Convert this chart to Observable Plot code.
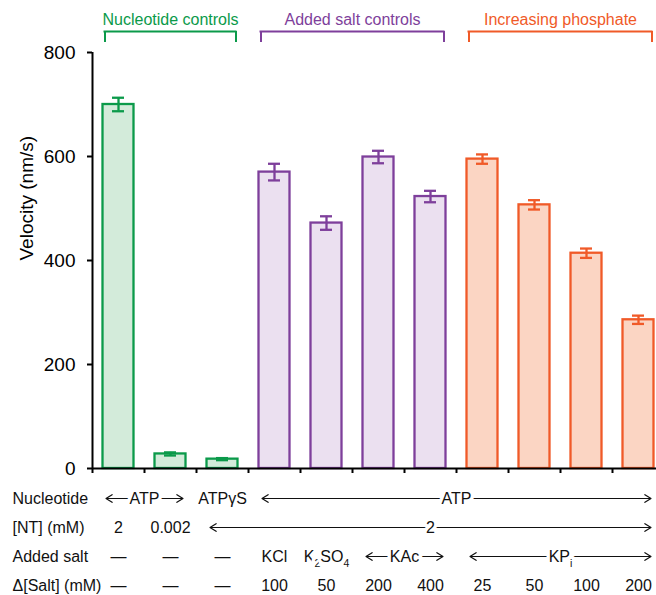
<!DOCTYPE html>
<html><head><meta charset="utf-8">
<script src="https://cdn.jsdelivr.net/npm/d3@7"></script>
<script src="https://cdn.jsdelivr.net/npm/@observablehq/plot@0.6"></script>
<style>
body{margin:0;background:#fff;}
#chart svg{display:block;overflow:visible;}
</style></head><body><div id="chart"></div>
<script>
// ---- data ----
const conditions = ["ATP 2 mM","ATP 0.002 mM","ATPγS 2 mM","KCl 100 mM","K2SO4 50 mM","KAc 200 mM","KAc 400 mM","KPi 25 mM","KPi 50 mM","KPi 100 mM","KPi 200 mM"];
const velocity = [700, 28, 18, 570, 472, 599, 523, 595, 507, 414, 286];
const velocityError = [13, 3, 2, 16, 13, 12, 11, 9, 9, 9, 8];
const barGroup = [0, 0, 0, 1, 1, 1, 1, 2, 2, 2, 2];
const groupNames = ["Nucleotide controls", "Added salt controls", "Increasing phosphate"];
const groupStart = [0, 3, 7];
const groupEnd = [3, 7, 11];
const groupStroke = ["#0b9a4a", "#7e3f9b", "#f05a28"];
const groupFill = ["#d3ebda", "#ebe0f0", "#fbd5c3"];
const yTicks = [0, 200, 400, 600, 800];
const yLabel = "Velocity (nm/s)";
const rowLabels = ["Nucleotide", "[NT] (mM)", "Added salt", "Δ[Salt] (mM)"];
// cells: [text, first bar, last bar (exclusive)]
const nucleotideCells = [["ATP",0,2],["ATPγS",2,3],["ATP",3,11]];
const ntCells = [["2",0,1],["0.002",1,2],["2",2,11]];
const saltCells = [["—",0,1],["—",1,2],["—",2,3],["KCl",3,4],["K_2SO_4",4,5],["KAc",5,7],["KP_i",7,11]];
const deltaSaltCells = [["—",0,1],["—",1,2],["—",2,3],["100",3,4],["50",4,5],["200",5,6],["400",6,7],["25",7,8],["50",8,9],["100",9,10],["200",10,11]];

// ---- build ----
const W = 656;
const nBars = conditions.length;
const xRange = [92, 664];
const font = "'Liberation Sans', Arial, Helvetica, sans-serif";

const bars = velocity.map((v, i) => ({
  i, name: conditions[i], v, e: velocityError[i],
  stroke: groupStroke[barGroup[i]], fill: groupFill[barGroup[i]]
}));
const groups = groupNames.map((name, g) => ({name, from: groupStart[g], to: groupEnd[g], color: groupStroke[g]}));
const cells = [];
[nucleotideCells, ntCells, saltCells, deltaSaltCells].forEach((row, r) =>
  row.forEach(([text, from, to]) => cells.push({row: rowLabels[r], text, from, to, span: to - from > 1})));
const spans = cells.filter(d => d.span);
const mid = d => (d.from + d.to) / 2;
const center = d => d.i + 0.5;

const header = Plot.plot({
  width: W, height: 45, marginTop: 0, marginBottom: 0, marginLeft: 92, marginRight: 0,
  x: {domain: [0, nBars], range: xRange, axis: null},
  y: {domain: [0, 1], range: [42, 31], axis: null},
  style: {fontFamily: font},
  marks: [
    Plot.ruleY(groups, {y: () => 1, x1: "from", x2: "to", insetLeft: 12.5, insetRight: 12.5, stroke: "color", strokeWidth: 2, strokeLinecap: "square"}),
    Plot.ruleX(groups, {x: "from", y1: () => 0, y2: () => 1, dx: 12.5, stroke: "color", strokeWidth: 2}),
    Plot.ruleX(groups, {x: "to", y1: () => 0, y2: () => 1, dx: -12.5, stroke: "color", strokeWidth: 2}),
    Plot.text(groups, {x: mid, y: () => 1, dy: -12, text: "name", fill: "color", fontSize: 16})
  ]
});

const chart = Plot.plot({
  width: W, height: 435, marginTop: 7, marginBottom: 12, marginLeft: 92, marginRight: 0,
  x: {domain: [0, nBars], range: xRange, axis: null},
  y: {domain: [0, 800], axis: null},
  style: {fontFamily: font, overflow: "visible"},
  marks: [
    Plot.rect(bars, {x1: "i", x2: d => d.i + 1, y1: () => 0, y2: "v", insetLeft: 10.5, insetRight: 10.5, fill: "fill", stroke: "stroke", strokeWidth: 2.3}),
    Plot.ruleX(bars, {x: center, y1: d => d.v - d.e, y2: d => d.v + d.e, stroke: "stroke", strokeWidth: 2.3}),
    Plot.ruleY(bars, {x1: center, x2: center, y: d => d.v + d.e, insetLeft: -6, insetRight: -6, stroke: "stroke", strokeWidth: 2.3}),
    Plot.ruleY(bars, {x1: center, x2: center, y: d => d.v - d.e, insetLeft: -6, insetRight: -6, stroke: "stroke", strokeWidth: 2.3}),
    Plot.ruleY([0], {stroke: "black", strokeWidth: 2}),
    Plot.ruleX([0], {stroke: "black", strokeWidth: 2}),
    Plot.axisY({ticks: yTicks, tickSize: 5, tickPadding: 12, fontSize: 19, strokeWidth: 2, label: null}),
    Plot.axisX({ticks: d3.range(nBars + 1), tickSize: 5, tickFormat: () => "", strokeWidth: 2, label: null}),
    Plot.text([yLabel], {text: d => d, frameAnchor: "left", rotate: -90, dx: -66, fontSize: 19, fill: "black"})
  ]
});

const table = Plot.plot({
  width: W, height: 115, marginTop: 17, marginBottom: 9, marginLeft: 92, marginRight: 0,
  x: {domain: [0, nBars], range: xRange, axis: null},
  y: {type: "point", domain: rowLabels, range: [17, 106], padding: 0, axis: null},
  style: {fontFamily: font},
  marks: [
    Plot.arrow(spans, {x1: mid, x2: "from", y1: "row", y2: "row", insetEnd: 13.5, headLength: 9, headAngle: 64, strokeWidth: 1.2, stroke: "#111"}),
    Plot.arrow(spans, {x1: mid, x2: "to", y1: "row", y2: "row", insetEnd: 13.5, headLength: 9, headAngle: 64, strokeWidth: 1.2, stroke: "#111"}),
    Plot.text(cells, {x: mid, y: "row", text: "text", fontSize: 16, fill: "#111", stroke: "white", strokeWidth: 7, strokeLinejoin: "round"}),
    Plot.text(rowLabels, {y: d => d, text: d => d, frameAnchor: "left", textAnchor: "start", dx: -80, fontSize: 16, fill: "#111"})
  ]
});

// subscripts: "_x" -> lowered small x
const NS = "http://www.w3.org/2000/svg";
table.querySelectorAll("text").forEach(t => {
  const s = t.textContent;
  if (!s.includes("_")) return;
  const parts = s.split(/_(\w)/);
  t.textContent = "";
  let prevSub = false;
  parts.forEach((p, k) => {
    if (!p) return;
    const ts = document.createElementNS(NS, "tspan");
    ts.textContent = p;
    if (k % 2) { ts.setAttribute("font-size", "10.5"); ts.setAttribute("dy", "5"); prevSub = true; }
    else if (prevSub) { ts.setAttribute("dy", "-5"); prevSub = false; }
    t.appendChild(ts);
  });
});

const root = document.getElementById("chart");
root.append(header, chart, table);
</script>
</body></html>
